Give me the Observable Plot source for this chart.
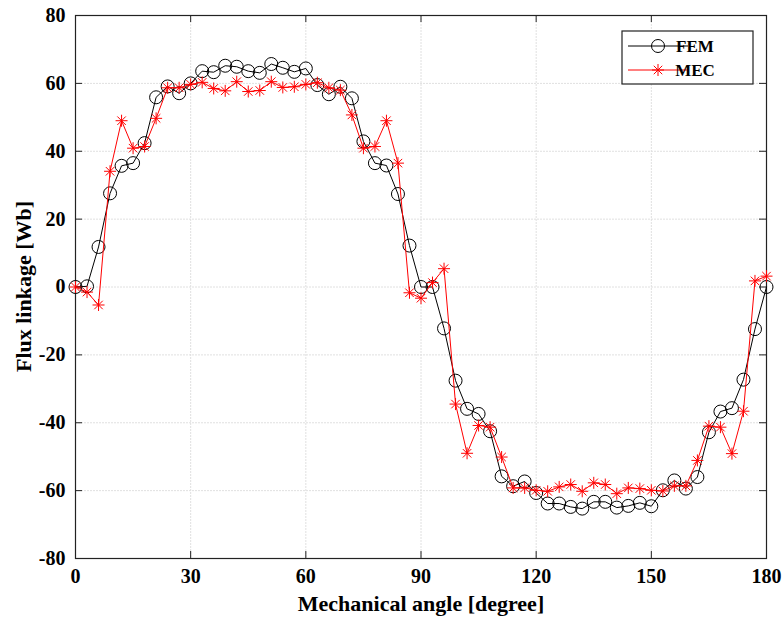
<!DOCTYPE html>
<html>
<head>
<meta charset="utf-8">
<script src="https://cdn.jsdelivr.net/npm/d3@7"></script>
<script src="https://cdn.jsdelivr.net/npm/@observablehq/plot@0.6"></script>
<style>
  html, body { margin: 0; padding: 0; background: #fff; }
  #chart { width: 784px; height: 628px; }
</style>
</head>
<body>
<div id="chart"></div>
<script>
const angles = [0,3,6,9,12,15,18,21,24,27,30,33,36,39,42,45,48,51,54,57,60,63,66,69,72,75,78,81,84,87,90,93,96,99,102,105,108,111,114,117,120,123,126,129,132,135,138,141,144,147,150,153,156,159,162,165,168,171,174,177,180];
const femValues = [0,0.2,11.8,27.6,35.7,36.5,42.4,55.9,59.1,57.1,60.0,63.6,63.3,65.2,64.9,63.6,63.1,65.7,64.6,63.4,64.4,59.5,56.8,59.0,55.6,42.9,36.5,35.8,27.4,12.2,0,0,-12.2,-27.6,-35.9,-37.4,-42.5,-55.8,-58.7,-57.3,-60.7,-63.8,-63.8,-64.8,-65.3,-63.3,-63.3,-65.0,-64.5,-63.6,-64.6,-59.9,-57.0,-59.4,-56.0,-42.8,-36.7,-35.7,-27.3,-12.4,0];
const mecValues = [0,-1.5,-5.3,34.1,49.0,40.9,41.4,49.7,58.7,58.7,59.7,60.3,58.5,57.8,60.5,57.6,57.9,60.5,58.8,59.0,59.7,60.2,58.7,58.0,50.7,40.9,41.4,49.0,36.5,-1.7,-3.3,1.3,5.4,-34.5,-49.0,-40.8,-41.3,-50.1,-59.2,-59.2,-59.9,-60.2,-58.9,-58.2,-60.2,-57.7,-58.2,-60.9,-59.2,-59.4,-59.9,-60.1,-58.6,-58.6,-51.1,-41.0,-41.3,-49.1,-36.6,1.8,3.2];
const seriesNames = ["FEM", "MEC"];
const xTicks = [0,30,60,90,120,150,180];
const yTicks = [-80,-60,-40,-20,0,20,40,60,80];
const xLabel = ["Mechanical angle [degree]"];
const yLabel = ["Flux linkage [Wb]"];

const fem = angles.map((a, i) => ({angle: a, value: femValues[i]}));
const mec = angles.map((a, i) => ({angle: a, value: mecValues[i]}));

const asterisk = {
  draw(context, size) {
    const r = Math.sqrt(size / Math.PI);
    const d = r * Math.SQRT1_2;
    context.moveTo(-r, 0); context.lineTo(r, 0);
    context.moveTo(0, -r); context.lineTo(0, r);
    context.moveTo(-d, -d); context.lineTo(d, d);
    context.moveTo(-d, d); context.lineTo(d, -d);
  }
};

const W = 784, H = 628, mL = 75, mR = 18, mT = 15, mB = 70;
const fw = W - mL - mR, fh = H - mT - mB, tk = 7;
const font = "'Liberation Serif', 'Times New Roman', serif";

const chart = Plot.plot({
  width: W, height: H,
  marginLeft: mL, marginRight: mR, marginTop: mT, marginBottom: mB,
  x: {domain: [0, 180], label: null},
  y: {domain: [-80, 80], label: null},
  style: {fontFamily: font, fontWeight: "bold", fontSize: "20px", background: "#fff", color: "#000", overflow: "visible"},
  marks: [
    Plot.gridX(xTicks.slice(1, -1), {stroke: "#e0e0e0", strokeOpacity: 1, strokeDasharray: "2,1"}),
    Plot.gridY(yTicks.slice(1, -1), {stroke: "#e0e0e0", strokeOpacity: 1, strokeDasharray: "2,1"}),
    Plot.tickX(xTicks, {x: d => d, stroke: "#222", insetTop: fh - tk}),
    Plot.tickX(xTicks, {x: d => d, stroke: "#222", insetBottom: fh - tk}),
    Plot.tickY(yTicks, {y: d => d, stroke: "#222", insetRight: fw - tk}),
    Plot.tickY(yTicks, {y: d => d, stroke: "#222", insetLeft: fw - tk}),
    Plot.frame({stroke: "#222", strokeWidth: 1.2}),
    Plot.axisX(xTicks, {tickSize: 0, tickPadding: 10, tickFormat: d => String(d), fontSize: 20, fontWeight: "bold", label: null}),
    Plot.axisY(yTicks, {tickSize: 0, tickPadding: 10, tickFormat: d => String(d), fontSize: 20, fontWeight: "bold", label: null}),
    Plot.text(xLabel, {frameAnchor: "bottom", dy: 52, text: d => d, fontSize: 22, fontWeight: "bold"}),
    Plot.line(fem, {x: "angle", y: "value", stroke: "#000", strokeWidth: 1}),
    Plot.dot(fem, {x: "angle", y: "value", r: 6.5, stroke: "#000", fill: "none", strokeWidth: 1}),
    Plot.line(mec, {x: "angle", y: "value", stroke: "#ff0000", strokeWidth: 1}),
    Plot.dot(mec, {x: "angle", y: "value", r: 6, symbol: asterisk, stroke: "#ff0000", fill: "none", strokeWidth: 1})
  ]
});
document.getElementById("chart").appendChild(chart);

const svg = d3.select(chart);

// Y axis title
svg.append("text")
  .attr("transform", `translate(23,${mT + fh / 2}) rotate(-90)`)
  .attr("text-anchor", "middle").attr("dy", "0.35em")
  .attr("font-family", font).attr("font-weight", "bold").attr("font-size", 22)
  .attr("fill", "#000").text(yLabel[0]);

// Legend inside the plot (top-right)
const lg = svg.append("g");
const lx = 622, ly = 31, lw = 131, lh = 53;
lg.append("rect").attr("x", lx).attr("y", ly).attr("width", lw).attr("height", lh)
  .attr("fill", "#fff").attr("stroke", "#222").attr("stroke-width", 1.2);
const entries = [
  {name: seriesNames[0], color: "#000", sym: d3.symbol(d3.symbolCircle, Math.PI * 6.5 * 6.5)},
  {name: seriesNames[1], color: "#ff0000", sym: d3.symbol(asterisk, Math.PI * 6 * 6)}
];
entries.forEach((e, i) => {
  const cy = ly + 15 + i * 24;
  lg.append("line").attr("x1", lx + 6).attr("x2", lx + 66).attr("y1", cy).attr("y2", cy)
    .attr("stroke", e.color).attr("stroke-width", 1);
  lg.append("path").attr("d", e.sym()).attr("transform", `translate(${lx + 36},${cy})`)
    .attr("fill", "none").attr("stroke", e.color).attr("stroke-width", 1);
  lg.append("text").attr("x", lx + 73).attr("y", cy).attr("dy", "0.35em")
    .attr("font-family", font).attr("font-weight", "bold").attr("font-size", 17)
    .attr("fill", "#000").text(e.name);
});
</script>
</body>
</html>
